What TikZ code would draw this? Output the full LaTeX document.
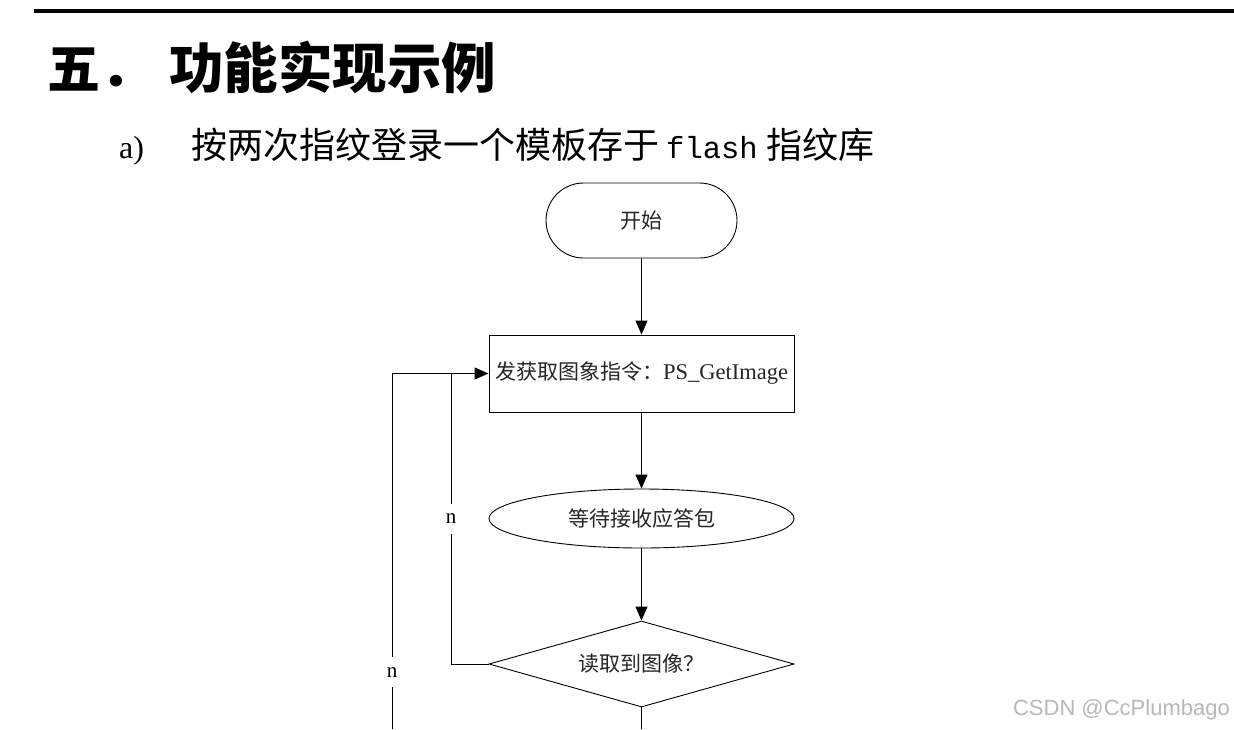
\documentclass[tikz,border=0pt]{standalone}
\usepackage{fontspec}
\setmainfont{Liberation Serif}
\newfontfamily\cjk{Noto Sans CJK SC}
\newfontfamily\wmfont{Liberation Sans}
\newfontfamily\monofont{Liberation Mono}
\usetikzlibrary{shapes.geometric,shapes.misc,arrows.meta}
\begin{document}
\begin{tikzpicture}[x=1pt,y=-1pt,
  box/.style={draw=black,line width=0.9pt,inner sep=0pt,font=\fontsize{21}{24}\selectfont,text=black!85},
  arr/.style={line width=0.9pt,-{Triangle[length=14pt,width=12pt]}},
  ln/.style={line width=0.9pt},
  lbl/.style={fill=white,inner sep=1pt,minimum height=30pt,font=\fontsize{21}{22}\selectfont}]
\useasboundingbox (0,0) rectangle (1234,729);
\fill[white] (0,0) rectangle (1234,729);
% top rule
\coordinate (ruleL) at (34,11);
\coordinate (ruleR) at (1234,11);
\draw[line width=4pt] (ruleL) -- (ruleR);
% title
\node[anchor=base west,inner sep=0pt,font=\cjk\bfseries\fontsize{53}{56}\selectfont] (t1) at (47,88) {五．};
\node[anchor=base west,inner sep=0pt,font=\cjk\bfseries\fontsize{54.5}{58}\selectfont] (t2) at (169,88) {功能实现示例};
% subtitle
\node[anchor=base west,inner sep=0pt,font=\fontsize{32}{36}\selectfont] (s1) at (119,158) {a)};
\node[anchor=base west,inner sep=0pt,font=\cjk\fontsize{36}{38}\selectfont] (s2) at (191,158) {按两次指纹登录一个模板存于};
\node[anchor=base west,inner sep=0pt,font=\monofont\fontsize{30.5}{34}\selectfont] (s3) at (666,158) {flash};
\node[anchor=base west,inner sep=0pt,font=\cjk\fontsize{36}{38}\selectfont] (s4) at (766,158) {指纹库};
% flowchart
\node[box,rounded rectangle,minimum width=191pt,minimum height=75pt] (start) at (641.5,220.5) {\cjk 开始};
\node[box,rectangle,minimum width=305pt,minimum height=77pt] (get) at (641.5,373.5) {{\cjk 发获取图象指令：}{\fontsize{22.5}{24}\selectfont PS\_GetImage}};
\node[box,ellipse,minimum width=305pt,minimum height=59pt] (wait) at (641.5,518.5) {\cjk 等待接收应答包};
\node[box,diamond,aspect=3.55,minimum width=305pt,minimum height=86pt] (read) at (641.5,664) {\cjk 读取到图像？};
\draw[arr] (start) -- (get);
\draw[arr] (get) -- (wait);
\draw[arr] (wait) -- (read);
\coordinate (bot) at (641.5,729);
\draw[ln] (read.south) -- (bot);
% inner loop
\coordinate (i1) at (451,664);
\coordinate (i2) at (451,373.5);
\draw[ln] (read.west) -- (i1) -- node[lbl] (n1) {n} (i2);
\draw[arr] (i2) -- (get.west);
% outer loop
\coordinate (o0) at (392,729);
\coordinate (o1) at (392,373.5);
\draw[ln] (o0) -- node[lbl,pos=0.16] (n2) {n} (o1) -- (i2);
% watermark
\node[anchor=east,inner sep=0pt,font=\wmfont\fontsize{22}{24}\selectfont,text=black!28] (wm) at (1230,710) {CSDN @CcPlumbago};
\end{tikzpicture}
\end{document}
